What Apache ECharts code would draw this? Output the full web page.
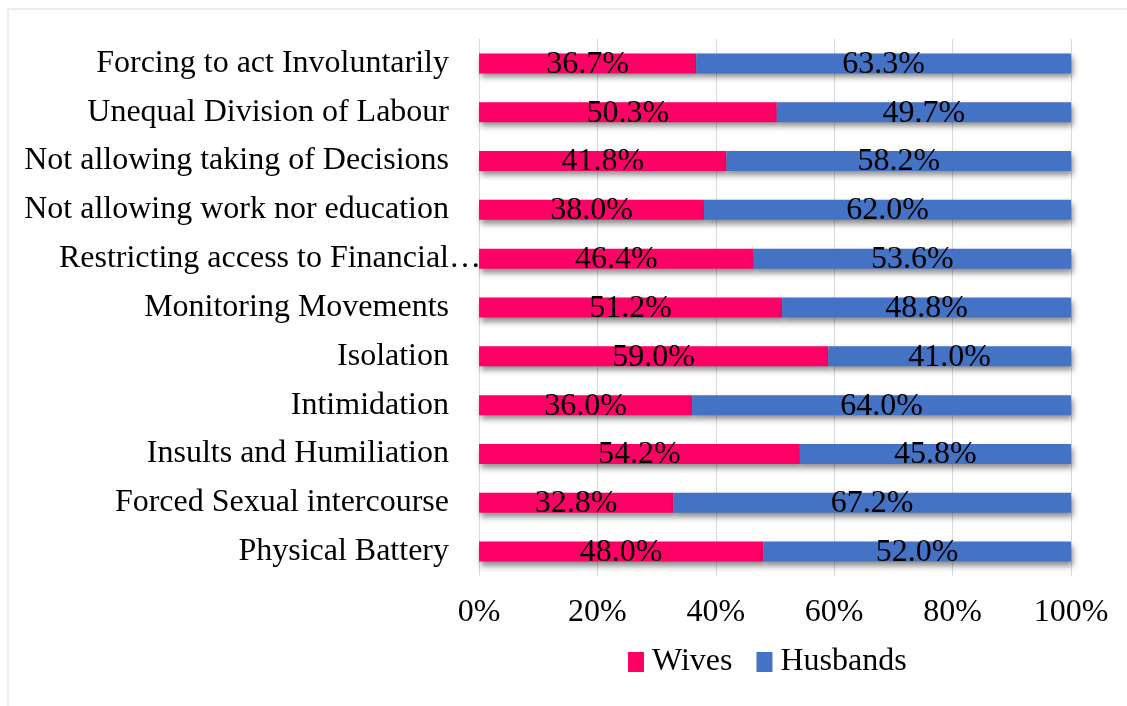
<!DOCTYPE html>
<html>
<head>
<meta charset="utf-8">
<script src="https://cdn.jsdelivr.net/npm/echarts@6/dist/echarts.min.js"></script>
<style>
  html, body { margin: 0; padding: 0; background: #fff; }
  #chart { width: 1127px; height: 706px; }
</style>
</head>
<body>
<div id="chart"></div>
<script>
// categories, top to bottom
const categories = [
  'Forcing to act Involuntarily',
  'Unequal Division of Labour',
  'Not allowing taking of Decisions',
  'Not allowing work nor education',
  'Restricting access to Financial\u2026',
  'Monitoring Movements',
  'Isolation',
  'Intimidation',
  'Insults and Humiliation',
  'Forced Sexual intercourse',
  'Physical Battery'
];
const wives = [36.7, 50.3, 41.8, 38.0, 46.4, 51.2, 59.0, 36.0, 54.2, 32.8, 48.0];
const husbands = [63.3, 49.7, 58.2, 62.0, 53.6, 48.8, 41.0, 64.0, 45.8, 67.2, 52.0];

const font = '"Liberation Serif", "Times New Roman", serif';

const chart = echarts.init(document.getElementById('chart'));

// the truncated label runs past the others, nearly into the bars
const yData = categories.map(c => c.endsWith('\u2026')
  ? { value: c, textStyle: { padding: [0, -32, 0, 0] } }
  : c);

// shared bar style
const barShadow = {
  shadowColor: 'rgba(0,0,0,0.45)',
  shadowBlur: 6,
  shadowOffsetX: 2,
  shadowOffsetY: 4
};

const barLabel = {
  show: true,
  position: 'inside',
  formatter: p => p.value.toFixed(1) + '%',
  fontFamily: font,
  fontSize: 32,
  color: '#000',
  offset: [0, 1]
};

const option = {
  backgroundColor: '#fff',
  animation: false,
  graphic: [{
    type: 'rect',
    shape: { x: 8, y: 9, width: 1140, height: 720 },
    style: { fill: 'none', stroke: '#d9d9d9', lineWidth: 1 },
    silent: true
  }],
  grid: { left: 479, right: 56, top: 39, height: 537 },
  legend: {
    data: ['Wives', 'Husbands'],
    top: 646,
    left: 628,
    padding: 0,
    itemWidth: 16,
    itemHeight: 20,
    itemGap: 24,
    icon: 'rect',
    textStyle: { fontFamily: font, fontSize: 32, color: '#000', padding: [0, 0, 0, 3] }
  },
  xAxis: {
    type: 'value',
    min: 0,
    max: 100,
    interval: 20,
    axisLine: { show: false },
    axisTick: { show: false },
    axisLabel: {
      formatter: '{value}%',
      fontFamily: font,
      fontSize: 32,
      color: '#000',
      margin: 21
    },
    splitLine: { lineStyle: { color: '#d9d9d9', width: 1 } }
  },
  yAxis: {
    type: 'category',
    inverse: true,
    data: yData,
    axisLine: { show: true, lineStyle: { color: '#d9d9d9' } },
    axisTick: { show: false },
    axisLabel: {
      fontFamily: font,
      fontSize: 32,
      color: '#000',
      margin: 30
    }
  },
  series: [
    {
      name: 'Wives',
      type: 'bar',
      stack: 'total',
      barWidth: 20,
      data: wives,
      itemStyle: Object.assign({ color: '#FF0066' }, barShadow),
      label: barLabel
    },
    {
      name: 'Husbands',
      type: 'bar',
      stack: 'total',
      barWidth: 20,
      data: husbands,
      itemStyle: Object.assign({ color: '#4472C4' }, barShadow),
      label: barLabel
    }
  ]
};

chart.setOption(option);
</script>
</body>
</html>
